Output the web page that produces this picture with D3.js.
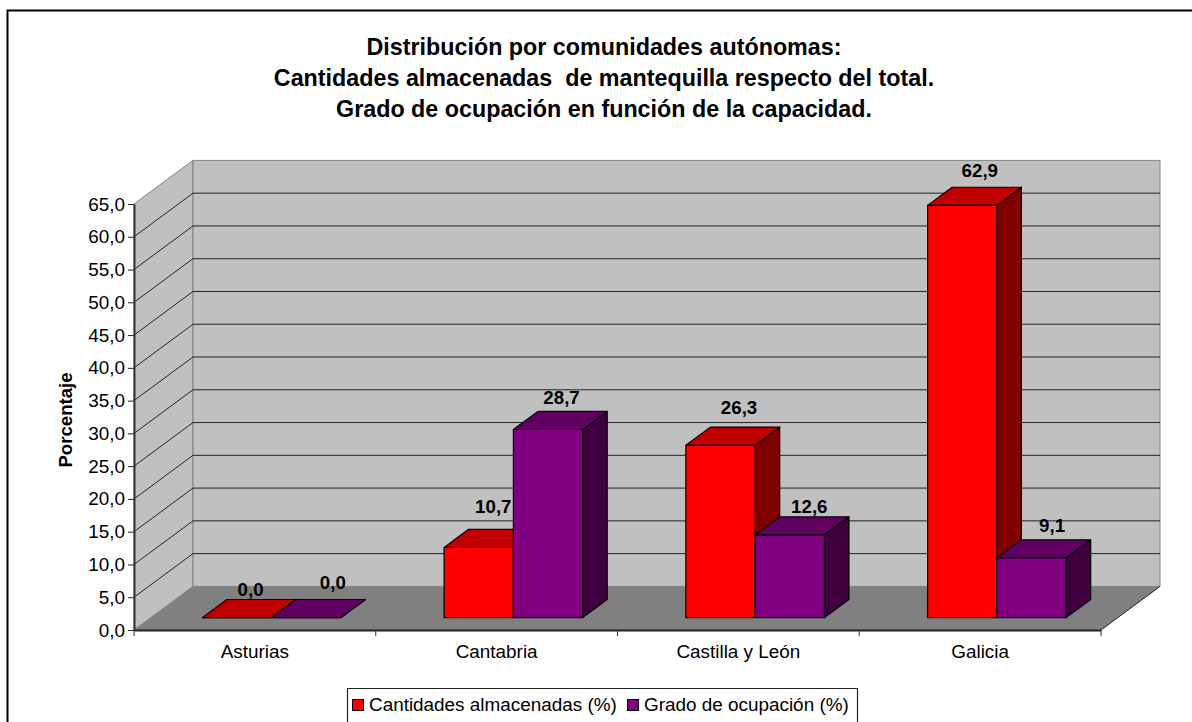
<!DOCTYPE html>
<html lang="es"><head>
<meta charset="utf-8">
<title>Mantequilla</title>
<script src="https://cdn.jsdelivr.net/npm/d3@7"></script>
<style>
body { margin: 0; background: #fff; }
text { font-family: "Liberation Sans", Arial, sans-serif; fill: #000; }
</style>
</head>
<body>
<script type="text/javascript">

var titleLines = [
    "Distribución por comunidades autónomas:",
    "Cantidades almacenadas  de mantequilla respecto del total.",
    "Grado de ocupación en función de la capacidad."
];
var categories = ["Asturias", "Cantabria", "Castilla y León", "Galicia"];
var seriesNames = ["Cantidades almacenadas (%)", "Grado de ocupación (%)"];
var almacenadas = [0.0, 10.7, 26.3, 62.9];
var ocupacion = [0.0, 28.7, 12.6, 9.1];
var yTicks = d3.range(0, 66, 5);
var yAxisTitle = "Porcentaje";

var width = 1192;
var height = 722;

// plot box, front plane
var left = 134, right = 1101, bottom = 630, top_ = 204;
// how far the back wall sits from the front plane
var depthX = 59, depthY = 43.6;
// bars stand between these two fractions of the depth
var barDepth = [0.284, 0.70];
var fontSize = 18.9;

// Excel moved the data labels around by hand, nudges per series then category
var labelNudge = [
    [[-11, -3], [-10, -16], [-6, -13], [-7, -10]],
    [[2, -10], [-11, -7], [-5, -4], [-4, -8]]
];

var faces = [
    {front: "#ff0000", top: "#c00000", side: "#800000"},
    {front: "#800080", top: "#600060", side: "#400040"}
];

var svg = d3.select("body").append("svg")
            .attr("width", width)
            .attr("height", height)
            .style("display", "block");

var x = d3.scaleBand().domain(categories).range([left, right]);
var xInner = d3.scaleBand().domain([0, 1]).range([0, x.bandwidth()]).paddingInner(0).paddingOuter(0.745);
var y = d3.scaleLinear().domain([0, 65]).range([bottom, top_]);

// x on the front plane, value on y, d = depth fraction
var pt = (px, v, d) => [px + d * depthX, y(v) - d * depthY];
var poly = (pts) => "M" + pts.map((p) => p.join(",")).join("L") + "Z";

// outer frame, only top and left fall inside the picture
svg.append("path")
    .attr("d", "M7.5,722V10.5H1192")
    .attr("fill", "none")
    .attr("stroke", "#000")
    .attr("stroke-width", 2);

var title = svg.append("text")
    .attr("text-anchor", "middle")
    .attr("font-weight", "bold")
    .attr("font-size", 23.3);
title.selectAll("tspan")
    .data(titleLines)
    .enter()
    .append("tspan")
    .style("white-space", "pre")
    .attr("x", 604)
    .attr("y", (d, i) => 55 + i * 31.2)
    .text((d) => d);

// walls and floor
var wall = svg.append("g");
wall.append("path")
    .attr("d", poly([pt(left, 0, 0), pt(left, 65, 0), pt(left, 65, 1), pt(left, 0, 1)]))
    .attr("fill", "#c0c0c0").attr("stroke", "#808080");
wall.append("path")
    .attr("d", poly([pt(left, 0, 1), pt(left, 65, 1), pt(right, 65, 1), pt(right, 0, 1)]))
    .attr("fill", "#c0c0c0").attr("stroke", "#808080");
wall.append("path")
    .attr("d", poly([pt(left, 0, 0), pt(left, 0, 1), pt(right, 0, 1), pt(right, 0, 0)]))
    .attr("fill", "#808080");
wall.append("path")
    .attr("d", "M" + pt(right, 0, 0).join(",") + "L" + pt(right, 0, 1).join(","))
    .attr("stroke", "#222");

// gridlines, side wall then back wall
var gridTicks = yTicks.filter((d) => d > 0 && d < 65);
wall.selectAll(".grid")
    .data(gridTicks)
    .enter()
    .append("path")
    .attr("class", "grid")
    .attr("d", (d) => "M" + pt(left, d, 0).join(",") + "L" + pt(left, d, 1).join(",") + "L" + pt(right, d, 1).join(","))
    .attr("fill", "none")
    .attr("stroke", "#222")
    .attr("stroke-width", 1);

// axes
var yAxis = svg.append("g")
    .attr("transform", "translate(" + left + ",0)")
    .call(d3.axisLeft(y).tickValues(yTicks).tickSize(6).tickSizeOuter(0).tickPadding(3)
        .tickFormat((d) => d3.format(".1f")(d).replace(".", ",")));
yAxis.select(".domain").attr("stroke", "#333").attr("stroke-width", 2);
yAxis.selectAll("line").attr("stroke", "#222");
yAxis.selectAll("text").attr("font-size", fontSize);

var xAxis = svg.append("g")
    .attr("transform", "translate(0," + bottom + ")")
    .call(d3.axisBottom(x).tickSize(0).tickPadding(14.5));
xAxis.select(".domain").attr("stroke", "#222").attr("stroke-width", 2);
xAxis.selectAll("text").attr("font-size", fontSize);

// x ticks sit on the band edges, not the centres
svg.selectAll(".xedge")
    .data(categories.concat([null]))
    .enter()
    .append("line")
    .attr("class", "xedge")
    .attr("x1", (d, i) => left + i * x.step())
    .attr("x2", (d, i) => left + i * x.step())
    .attr("y1", bottom)
    .attr("y2", bottom + 6)
    .attr("stroke", "#333");

svg.append("text")
    .attr("transform", "translate(71.5,420) rotate(-90)")
    .attr("text-anchor", "middle")
    .attr("font-weight", "bold")
    .attr("font-size", 18.6)
    .text(yAxisTitle);

// bars
var seriesValues = [almacenadas, ocupacion];
var bars = svg.append("g").attr("stroke", "#000").attr("stroke-width", 1.2).attr("stroke-linejoin", "round");
var labels = svg.append("g");

categories.forEach((cat, c) => {
    seriesValues.forEach((vals, s) => {
        var v = vals[c];
        var x0 = x(cat) + xInner(s);
        var x1 = x0 + xInner.bandwidth();
        var d0 = barDepth[0], d1 = barDepth[1];

        bars.append("path")
            .attr("fill", faces[s].side)
            .attr("d", poly([pt(x1, 0, d0), pt(x1, v, d0), pt(x1, v, d1), pt(x1, 0, d1)]));
        bars.append("path")
            .attr("fill", faces[s].top)
            .attr("d", poly([pt(x0, v, d0), pt(x0, v, d1), pt(x1, v, d1), pt(x1, v, d0)]));
        bars.append("path")
            .attr("fill", faces[s].front)
            .attr("d", poly([pt(x0, 0, d0), pt(x0, v, d0), pt(x1, v, d0), pt(x1, 0, d0)]));

        var anchor = pt((x0 + x1) / 2, v, d1);
        labels.append("text")
            .attr("x", anchor[0] + labelNudge[s][c][0])
            .attr("y", anchor[1] + labelNudge[s][c][1])
            .attr("text-anchor", "middle")
            .attr("font-weight", "bold")
            .attr("font-size", 18.7)
            .text(d3.format(".1f")(v).replace(".", ","));
    });
});

// legend, its bottom edge is cut off by the picture
var legend = svg.append("g");
legend.append("path")
    .attr("d", "M347.5,722V688.5H857.5V722")
    .attr("fill", "none")
    .attr("stroke", "#222")
    .attr("stroke-width", 1.2);
var legendMarkX = [352.5, 627.5];
seriesNames.forEach((name, s) => {
    legend.append("rect")
        .attr("x", legendMarkX[s])
        .attr("y", 699.5)
        .attr("width", 11)
        .attr("height", 11)
        .attr("fill", faces[s].front)
        .attr("stroke", "#000");
    legend.append("text")
        .attr("x", legendMarkX[s] + 16.5)
        .attr("y", 710.5)
        .attr("font-size", fontSize)
        .text(name);
});

</script>
</body></html>
